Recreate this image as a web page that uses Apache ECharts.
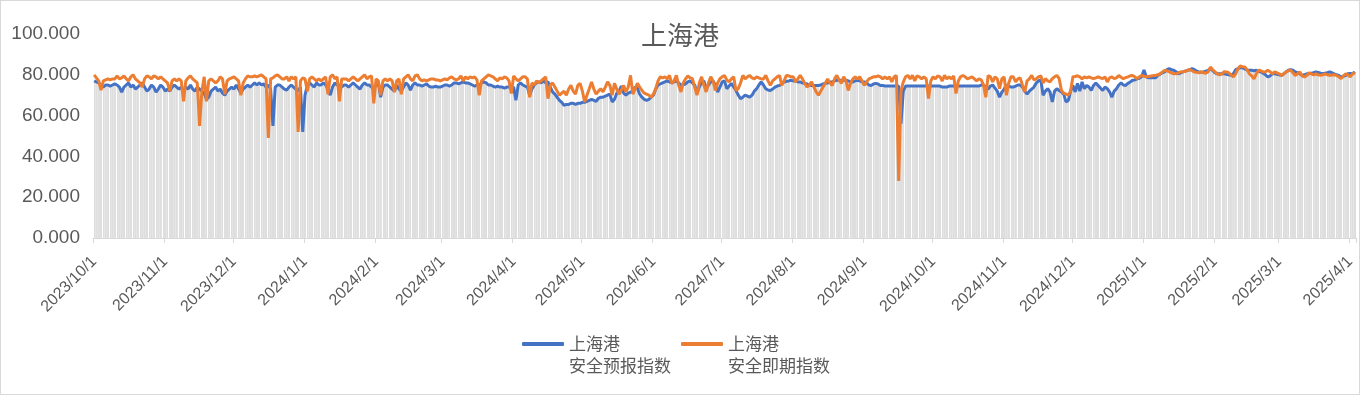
<!DOCTYPE html>
<html>
<head>
<meta charset="utf-8">
<script src="https://cdn.jsdelivr.net/npm/echarts@6/dist/echarts.min.js"></script>
<style>
html,body{margin:0;padding:0;background:#fff;}
#chart{position:absolute;left:0;top:0;width:1360px;height:395px;}
#frame{position:absolute;left:0;top:0;width:1360px;height:395px;box-sizing:border-box;border:1px solid #d9d9d9;pointer-events:none;}
</style>
</head>
<body>
<div id="chart"></div>
<div id="frame"></div>
<script>
const chartTitle = '上海港';
const forecastName = '上海港\n安全预报指数';
const currentName = '上海港\n安全即期指数';
const startDate = [2023, 10, 1];
const yTicks = [0, 20, 40, 60, 80, 100];

// 上海港 安全预报指数 (daily, from 2023/10/1)
const forecastValues = [
  77,76.5,76,75,74,75,75,74.5,75,75.5,
  75,74,71.5,74,75,76,74,75,73,74,
  75,76,74,72,73,75,74,71.5,73,75,
  74,72,73,72,74,75,74,73,74,72,
  74,73,75,73,72,74,73,72,71,68,
  69,72,73,74,72,73,71,70,72,73,
  74,73,75,73,71,73,74,75,74,
  75,76,75,76,75,75.5,74,75,73,55,
  74,75,75,74,73,72.5,74,75,74,73,
  72,74,52,70,75,76,75,74,76,75,
  75,76,75,73,70,74,76,75,75,74,
  75,75,74,75,76,75,74,73,75,76,
  75,75,74,73,75,76,69,74,75,75,
  74,73,72,75,73,72,74,76,75,
  72.5,75,76,75,75,74.5,75,75.5,74.5,74,
  74,74.5,74,74,74.5,75,75,74.5,75,76,
  76,75.5,76,76.5,76,76,75.5,75,74.5,75,
  74.5,76,76.5,76,75,75,74.5,74,74.5,74,
  74,73.5,74,74,73.5,74,67.5,75,76,75,
  74.5,74,70,73,75,76,76.5,76,77,76,
  76.5,74,71.6,70.5,69,67.5,66.5,65,65.5,
  65.5,66,66,65.5,66,66,66.5,66.5,67,67.5,
  68,67.5,67,68.5,69,69,69.5,70,70.5,66.7,
  68,71,72,74.5,71,70,71,71.5,72,74,
  73.5,70.5,69,68,67.5,68,69,70,73,75,
  75.5,76,76.5,77,76.5,76,76.5,77,76,75,
  75,75.5,76.5,77,76,75,71,74,76.5,77,
  73,75,76.5,77,75,71.5,74,76.5,77,
  73.2,74.5,75.8,74,72.3,70,68.3,69,70,69.5,
  69,70,72,73.2,75,76.5,75,73.2,72.5,72.3,
  73,74,74.5,74.8,75.5,76.5,76.8,77,77.3,77,
  77,76.5,76.5,76,75.8,75.5,75,74.8,74.8,74.8,
  74.8,75,75.5,75.8,76,76.5,76.5,77,77.3,77.3,
  77.3,77.3,77.3,77,76.5,76.5,77,77.3,77,76.5,
  76.5,76,75,74.8,75.5,75.8,75.5,74.8,74.8,
  74.5,74.5,74.5,74.5,74.5,74.5,74.5,56,72,74.5,
  74.5,74.5,74.5,74.5,74.5,74.5,74.5,74.5,74.5,74.5,
  74.5,74.5,74.5,74.5,74.5,74,74,74,74.5,74.5,
  74.5,74.5,74.5,74.5,74.5,74.5,74.5,74.5,74.5,74.5,
  74.5,74.5,75,75,74,73,74.5,75,73.5,72,
  69,71.5,73,75,74.5,74,74,74.5,75,75,
  74,72,70.5,72,73,74,76,77,77.5,
  70,72,73.2,71.6,66.7,72,73.2,72.3,71.6,70.5,
  66.7,67.5,72,74.8,71.6,75.8,72,76.5,73.2,74.8,
  74,72.3,74.8,76,74.8,73.5,72.3,74,73.2,71.6,
  69,72,73.2,75,76,75,74.8,75.8,76.5,77.3,
  77.5,78,78.3,79,82.3,79,78.5,78.5,78.5,78.5,
  79.7,80.3,81,81.4,82.5,83,82.5,82.2,81.5,80.5,
  81,81.4,81.8,82.2,82.5,83,82.5,81.8,81.4,
  81.2,81.4,81.8,82.2,83,82,81,80.5,80.5,80.5,
  80.5,80.3,80,79.7,80.5,82.5,83,83.5,83.5,82.8,
  82.4,82.2,82.2,82,82.2,81.6,81.4,80.8,80,78.9,
  79.5,80.5,80.5,80.3,80,79.7,80.5,81.4,82.2,82.5,
  82.2,81.4,81,80.5,79.7,80,80.5,80.5,80.8,81,
  81.4,81.2,80.8,80.5,80.8,81,81.4,81,80.5,80,
  79.7,78.9,79.2,79.7,80.5,80.7,80.5,81.4
];

// 上海港 安全即期指数 (daily, from 2023/10/1)
const currentValues = [
  80,78.5,77,72.5,77,77.5,78,77.5,78,78,
  79.5,78,78.5,79.5,78,77,79,80,78,77,
  76,74,78,79.5,79,78,79.5,79,78,79,
  78,77,76,72,77,78,77,78,77,67,
  77,78.5,79.5,78,77,76,55,72,79,67,
  77,78,77,76,77,79,78,70.5,77,78,
  78.5,79,78,77,70,76,78,79.5,79,
  79,79.5,79,79.5,80,79,78,49,78,78.5,
  79.5,80,79,78,78,79,77,79,78,79,
  52,77,78.5,78,72,78,79,78,77,78,
  77,78,79,70.5,79,80,78,79,67,78,
  78,78,77,78,79,78,77,78,79,80,
  78,79,79.5,66,78,77,70,77,78,77,
  78,77,71.5,77,78,70.5,78,79,80,
  78,77,79.5,80,78,77,77.5,77,77.5,78,
  78,77.5,77.5,77,77.5,78,77.5,78.5,79,78,
  77.5,78,79.5,77,79,78,79,78.5,79,77.5,
  70,77,78,79,80,79.5,79,78,77,78.5,
  78,79,78.5,77,70.8,79.5,78,77,78,79,
  79,78,69,76,75,77,76,77,78,79,
  68.3,75,76,74,72,70,71,72,70,
  73,74.8,72,70.5,74.8,75.8,72,66.7,70,73.2,
  76.5,73,70.5,72,73.2,71.6,74,76.5,74.8,70,
  75.8,73,70.5,72.5,74.8,71.6,74,79.7,70.5,73,
  75.8,74,72.3,71,70.5,70,69,70.5,73.2,77,
  79,78.5,79,78,79.7,75.8,77,79.7,75,71.6,
  76,78,79.4,78.5,78.1,74,70,76,79,75,
  71.6,76,79,77,72.3,76,78.1,79,79.7,
  77.5,76.5,78,79,72.3,73.2,76,79.7,78,79,
  79.7,78.5,78,79,78.5,78,78,79.7,77,74.8,
  77,78,79,79.7,74.8,77,79.7,79.5,79,79,
  76.5,78,79.7,78,75.8,74,75,76.5,74,71.6,
  70,72,74,76,78,76,74.8,78,79.7,77.5,
  75.8,79,77,72.3,76,78,79,78,79,77,
  74.8,76.5,78,78.5,79,79,79.5,79,78,
  79,78,79,76.5,79,79.7,28,72,76.5,79,
  79.7,78,79.7,77,79.5,79,78,79,78,68.3,
  77,79,78,79.5,79,77,79.7,78,79,78,
  79.5,70.8,77,79,79.7,79,78,78.5,79,78,
  77,78,77.5,75,69,79.7,79,76.5,79,78,
  73.2,78,79,70,76,79,79,76.5,78,78.5,
  74.8,71.6,77,78,79.7,77.5,78,79,79.5,
  76,78.1,77,76.5,78.1,79,79.7,78.1,72.3,71,
  70.5,70,72,79,79.2,79.5,79,78,79,78.5,
  79,78.5,78.1,78.5,79,78.5,78.1,79,76.5,78.5,
  79,78.1,78.5,79.7,78.8,78.1,78.6,79,79.5,79.7,
  79,78.1,79,79.7,79.3,79,79.2,79.4,79.6,79.7,
  80,80.5,81.3,82.2,82,81.4,81,80.5,80.5,81,
  81.4,81.5,81.7,82.2,82.6,82,81.4,81.2,81,
  81.5,81,80.8,81.5,83.8,82.5,81.4,80.5,80,80.5,
  81.5,81.4,81,80,79,80.5,83,84.3,84,83.8,
  82.5,80.5,79.5,78,80.5,82.2,82,81.4,81.5,82.2,
  81.5,80.5,81.4,81,80.5,79.7,80.5,81.4,82,82.2,
  81,79.7,80.5,81.4,79.5,78.9,79.7,81,80.5,80,
  80.5,80,79.7,80,80.5,80,79.7,79.9,80,79.7,
  79,78.1,79.5,80.5,80,79,80.5,81
];

// category dates (one per daily value)
const dates = [];
{
  const d = new Date(startDate[0], startDate[1] - 1, startDate[2]);
  for (let i = 0; i < forecastValues.length; i++) {
    dates.push(d.getFullYear() + '/' + (d.getMonth() + 1) + '/' + d.getDate());
    d.setDate(d.getDate() + 1);
  }
}

const isMonthStart = (idx, val) => String(dates[idx]).endsWith('/1');
const stripe = (idx) => Math.floor(idx / 3.3) !== Math.floor((idx - 1) / 3.3);

const chart = echarts.init(document.getElementById('chart'), null, {renderer: 'canvas'});
chart.setOption({
  animation: false,
  backgroundColor: 'transparent',
  textStyle: {fontFamily: "'Liberation Sans', 'Noto Sans CJK SC', sans-serif"},
  title: {
    text: chartTitle,
    left: 'center',
    top: 17,
    textStyle: {fontFamily: "'Noto Sans CJK SC', sans-serif", fontSize: 26, fontWeight: 'normal', color: '#595959'}
  },
  legend: {
    data: [forecastName, currentName],
    left: 522,
    top: 311,
    padding: 0,
    itemGap: 10,
    itemWidth: 42,
    itemHeight: 4,
    icon: 'roundRect',
    formatter: name => '\n' + name,
    textStyle: {fontFamily: "'Noto Sans CJK SC', sans-serif", fontSize: 17, lineHeight: 22, color: '#595959'}
  },
  grid: {left: 93, right: 4, top: 34, bottom: 157, containLabel: false},
  xAxis: {
    type: 'category',
    data: dates,
    boundaryGap: true,
    z: 3,
    axisLine: {show: true, lineStyle: {color: '#d9d9d9', width: 1}},
    axisTick: {show: true, interval: isMonthStart, length: 5, lineStyle: {color: '#d9d9d9'}},
    axisLabel: {interval: isMonthStart, rotate: 45, margin: 21, fontSize: 16, color: '#595959'},
    splitLine: {show: true, interval: stripe, lineStyle: {color: '#ffffff', width: 1}}
  },
  yAxis: {
    type: 'value',
    min: yTicks[0],
    max: yTicks[yTicks.length - 1],
    interval: 20,
    axisLine: {show: false},
    axisTick: {show: false},
    splitLine: {show: false},
    axisLabel: {fontSize: 19, color: '#595959', margin: 13, formatter: v => v.toFixed(3)}
  },
  series: [
    {
      type: 'bar',
      name: 'bg',
      data: forecastValues,
      barCategoryGap: '0%',
      itemStyle: {color: '#dedede'},
      z: 2,
      silent: true
    },
    {
      type: 'line',
      name: forecastName,
      data: forecastValues,
      showSymbol: false,
      symbol: 'none',
      z: 5,
      lineStyle: {color: '#4472C4', width: 3},
      itemStyle: {color: '#4472C4'}
    },
    {
      type: 'line',
      name: currentName,
      data: currentValues,
      showSymbol: false,
      symbol: 'none',
      z: 6,
      lineStyle: {color: '#ED7D31', width: 3},
      itemStyle: {color: '#ED7D31'}
    }
  ]
});
</script>
</body>
</html>
